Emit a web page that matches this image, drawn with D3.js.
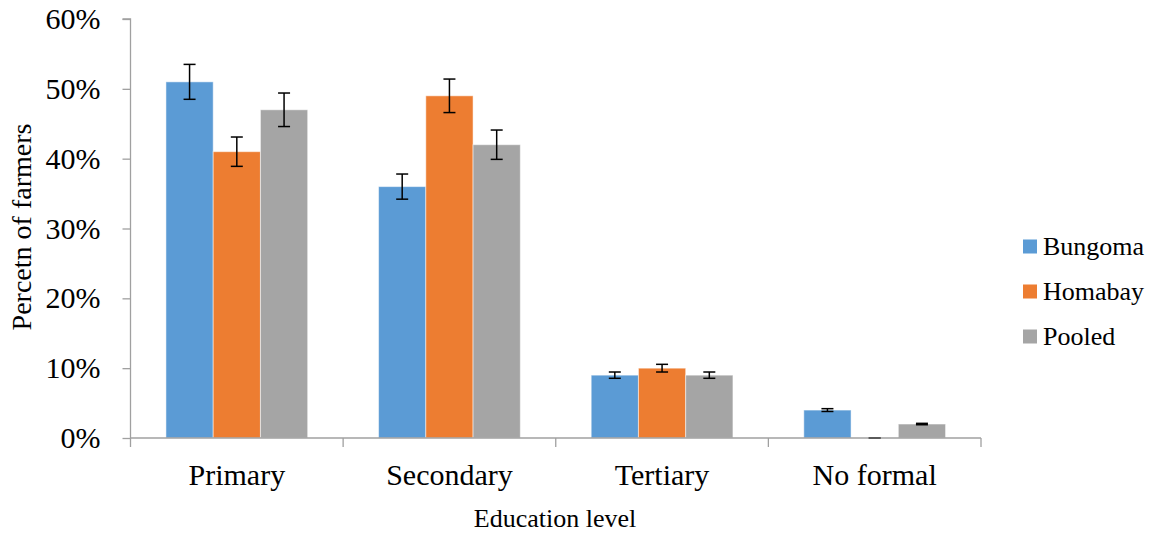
<!DOCTYPE html>
<html><head><meta charset="utf-8">
<script src="https://cdn.jsdelivr.net/npm/d3@7"></script>
<style>body{margin:0;background:#fff}svg{display:block}svg text{font-family:"Liberation Serif","Times New Roman",serif !important;fill:#000}</style>
</head><body><svg id="c" width="1154" height="533" font-family="Liberation Serif"></svg>
<script>
const categories = ["Primary", "Secondary", "Tertiary", "No formal"];
const seriesNames = ["Bungoma", "Homabay", "Pooled"];
const bungoma = [51, 36, 9, 4];
const homabay = [41, 49, 10, 0];
const pooled = [47, 42, 9, 2];
const bungomaErr = [2.5, 1.8, 0.45, 0.2];
const homabayErr = [2.1, 2.4, 0.55, 0];
const pooledErr = [2.4, 2.1, 0.45, 0.1];
const yTicks = [0, 10, 20, 30, 40, 50, 60];
const colors = ["#5B9BD5", "#ED7D31", "#A5A5A5"];

(function () {
const values = [bungoma, homabay, pooled];
const errs = [bungomaErr, homabayErr, pooledErr];
const FONT = "Liberation Serif";

const svg = d3.select("#c");
const mLeft = 130.5, mRight = 981, mTop = 19, mBottom = 438;
const x = d3.scaleBand().domain(categories).range([mLeft, mRight]).paddingInner(0).paddingOuter(0);
const bandW = x.bandwidth();
const barW = bandW / (3 + 1.5);
const x1 = d3.scaleBand().domain(seriesNames).range([0, barW * 3]);
const y = d3.scaleLinear().domain([0, 60]).range([mBottom, mTop]);

// bars
seriesNames.forEach((s, si) => {
  svg.append("g").selectAll("rect").data(categories).join("rect")
    .attr("x", c => x(c) + (bandW - 3 * barW) / 2 + x1(s))
    .attr("y", (c, i) => y(values[si][i]))
    .attr("width", x1.bandwidth())
    .attr("height", (c, i) => y(0) - y(values[si][i]))
    .attr("fill", colors[si])
    .attr("stroke", "#ffffff").attr("stroke-opacity", 0.5).attr("stroke-width", 1);
});

// axes
const axisColor = "#A0A0A0";
const gy = svg.append("g").attr("transform", `translate(${mLeft},0)`)
  .call(d3.axisLeft(y).tickValues(yTicks).tickFormat(d => d + "%").tickSize(8).tickPadding(22));
gy.attr("font-family", FONT);
gy.select(".domain").attr("stroke", axisColor).attr("stroke-width", 1.3).attr("d", `M-8,${mTop}H0V${mBottom}`);
gy.selectAll(".tick line").attr("stroke", axisColor).attr("stroke-width", 1.3);
gy.selectAll(".tick text").attr("font-family", FONT).style("font-size", "30px").attr("fill", "#000");

const gx = svg.append("g").attr("transform", `translate(0,${mBottom})`);
gx.append("line").attr("x1", mLeft).attr("x2", mRight).attr("y1", 0).attr("y2", 0).attr("stroke", axisColor).attr("stroke-width", 1.3);
const bounds = categories.map(c => x(c)).concat([mRight]);
gx.selectAll("line.t").data(bounds).join("line").attr("class", "t")
  .attr("x1", d => d).attr("x2", d => d).attr("y1", 0).attr("y2", 9).attr("stroke", axisColor).attr("stroke-width", 1.3);
gx.selectAll("text").data(categories).join("text")
  .attr("x", c => x(c) + bandW / 2).attr("y", 47).attr("text-anchor", "middle")
  .attr("font-family", FONT).style("font-size", "30px").text(c => c);

// error bars
seriesNames.forEach((s, si) => {
  const g = svg.append("g");
  categories.forEach((c, i) => {
    const cx = x(c) + (bandW - 3 * barW) / 2 + x1(s) + x1.bandwidth() / 2;
    const v = values[si][i], e = errs[si][i];
    const y1 = y(v + e), y2 = y(v - e);
    const col = v === 0 ? "#555" : "#000";
    g.append("line").attr("x1", cx).attr("x2", cx).attr("y1", y1).attr("y2", y2).attr("stroke", col).attr("stroke-width", 1.5);
    g.append("line").attr("x1", cx - 6).attr("x2", cx + 6).attr("y1", y1).attr("y2", y1).attr("stroke", col).attr("stroke-width", 1.5);
    g.append("line").attr("x1", cx - 6).attr("x2", cx + 6).attr("y1", y2).attr("y2", y2).attr("stroke", col).attr("stroke-width", 1.5);
  });
});

// axis titles
svg.append("text").attr("x", 555).attr("y", 527).attr("text-anchor", "middle").attr("font-family", FONT).style("font-size", "26px").text("Education level");
svg.append("text").attr("transform", "translate(31,227) rotate(-90)").attr("text-anchor", "middle").attr("font-family", FONT).style("font-size", "28px").text("Percetn of farmers");

// legend
const lg = svg.append("g");
seriesNames.forEach((s, i) => {
  const yy = 239.5 + i * 45;
  lg.append("rect").attr("x", 1023).attr("y", yy).attr("width", 14).attr("height", 14).attr("fill", colors[i]);
  lg.append("text").attr("x", 1043).attr("y", yy + 15).attr("font-family", FONT).style("font-size", "26px").text(s);
});
})();
</script></body></html>
